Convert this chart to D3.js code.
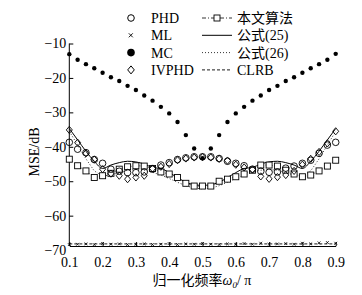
<!DOCTYPE html>
<html>
<head>
<meta charset="utf-8">
<script src="https://cdn.jsdelivr.net/npm/d3@7"></script>
<style>
  body { margin: 0; background: #fff; }
  text { font-family: "Liberation Serif", "Noto Sans CJK SC", serif; fill: #000; }
</style>
</head>
<body>
<div id="chart"></div>
<script>
////////////////////////////////////////////////////////////////////////
// Data (normalised frequency vs MSE in dB)

let freq = d3.range(33).map(i => +(0.1 + i * 0.025).toFixed(3));

let mc = [-13.1, -14.7, -16.0, -17.2, -18.5, -19.8, -20.9, -22.3, -23.5, -25.1, -26.6,
          -28.4, -30.3, -32.8, -36.6, -40.5, -43.3, -40.5, -36.6, -32.8, -30.3, -28.4,
          -26.6, -25.1, -23.5, -22.3, -20.9, -19.8, -18.5, -17.2, -16.0, -14.7, -13.0];

let phd = [-38.7, -40.7, -41.7, -43.7, -44.8, -46.5, -47.1, -47.5, -47.5, -47.3, -46.5,
           -45.3, -44.6, -43.7, -43.2, -42.9, -42.9, -42.9, -43.4, -44.2, -44.8, -45.5,
           -46.5, -47.1, -47.4, -47.3, -46.2, -45.6, -44.8, -43.9, -41.9, -39.5, -38.7];

let ivphd = [-35.1, -38.8, -41.9, -43.7, -46.5, -47.8, -48.4, -49.4, -48.9, -48.4, -46.3,
             -45.8, -45.0, -43.9, -43.4, -43.1, -43.0, -43.1, -43.5, -44.0, -45.2, -46.0,
             -46.6, -48.6, -49.3, -48.8, -48.2, -47.0, -45.2, -43.5, -41.5, -39.0, -35.5];

let ours = [-43.6, -45.5, -47.0, -48.9, -48.4, -47.7, -46.5, -45.8, -45.5, -45.6, -46.3,
            -47.3, -47.9, -48.9, -50.6, -51.4, -51.4, -51.4, -50.0, -49.4, -48.7, -47.9,
            -46.8, -45.3, -45.3, -45.6, -46.8, -47.9, -48.7, -48.2, -47.0, -45.6, -43.9];

let ml = [-68.4, -68.3, -68.2, -68.4, -68.1, -68.3, -68.2, -68.4, -68.3, -68.2, -68.4,
          -68.3, -68.1, -68.4, -68.2, -68.3, -68.1, -68.3, -68.4, -68.2, -68.3, -68.1,
          -68.3, -68.0, -68.3, -68.2, -68.1, -68.3, -68.0, -68.2, -67.9, -67.8, -68.0];

let eq25 = [-34.7, -38.0, -41.3, -44.2, -46.3, -45.3, -44.6, -44.2, -44.4, -45.0, -46.0,
            -46.3, -47.5, -48.9, -50.3, -51.0, -51.2, -51.0, -50.3, -48.9, -47.5, -46.3,
            -46.0, -45.0, -44.4, -44.2, -44.6, -45.3, -46.3, -44.2, -41.3, -38.0, -34.7];

let eq26 = [-35.5, -39.5, -43.5, -47.0, -48.5, -48.2, -47.5, -46.8, -46.6, -46.8, -47.4,
            -48.2, -49.2, -50.3, -51.3, -52.0, -52.2, -52.0, -51.3, -50.3, -49.2, -48.2,
            -47.4, -46.8, -46.6, -46.8, -47.5, -48.2, -48.5, -47.0, -43.5, -39.5, -35.5];

let crlb = freq.map(() => -68.2);

let xTicks = [0.1, 0.2, 0.3, 0.4, 0.5, 0.6, 0.7, 0.8, 0.9];
let yTicks = [-10, -20, -30, -40, -50, -60, -70];

////////////////////////////////////////////////////////////////////////

let width = 362, height = 295;
let svg = d3.select("#chart").append("svg")
  .attr("width", width).attr("height", height);

let xScale = d3.scaleLinear().domain([0.1, 0.9]).range([69.3, 335.7]);
let yScale = d3.scaleLinear().domain([-10, -70]).range([43.5, 250.1]);
let baseY = 246;   // the x axis sits just above -70

// axes
let xAxis = svg.append("g")
  .attr("transform", `translate(0, ${baseY})`)
  .call(d3.axisBottom(xScale).tickValues(xTicks).tickFormat(d3.format(".1f"))
        .tickSizeInner(-4).tickSizeOuter(0).tickPadding(11));
xAxis.selectAll("text").attr("font-size", 14);

let yAxis = svg.append("g")
  .attr("transform", `translate(${xScale(0.1)}, 0)`)
  .call(d3.axisLeft(yScale).tickValues(yTicks).tickFormat(d => "\u2212" + Math.abs(d))
        .tickSizeInner(-4).tickSizeOuter(0).tickPadding(3));
yAxis.selectAll("text").attr("font-size", 14);
yAxis.select(".domain").remove();
yAxis.selectAll(".tick").filter(d => d === -70).select("line").remove();
svg.append("line")
  .attr("x1", xScale(0.1)).attr("x2", xScale(0.1))
  .attr("y1", yScale(-10)).attr("y2", baseY)
  .attr("stroke", "#000");
xAxis.select(".domain").attr("stroke", "#000");

// axis titles
svg.append("text")
  .attr("transform", "translate(39, 152) rotate(-90)")
  .attr("text-anchor", "middle")
  .attr("font-size", 14)
  .text("MSE/dB");

let xt = svg.append("text")
  .attr("x", 202).attr("y", 285)
  .attr("text-anchor", "middle")
  .attr("font-size", 14);
xt.append("tspan").text("归一化频率");
xt.append("tspan").attr("font-style", "italic").text("ω");
xt.append("tspan").attr("font-style", "italic").attr("font-size", 9).attr("dy", 3).text("0");
xt.append("tspan").attr("dy", -3).text("/ π");

// lines
let line = d3.line().x((d, i) => xScale(freq[i])).y(d => yScale(d));

svg.append("path").datum(crlb).attr("d", line)
  .attr("fill", "none").attr("stroke", "#000").attr("stroke-width", 0.9)
  .attr("stroke-dasharray", "3,2");
svg.append("path").datum(eq26).attr("d", line)
  .attr("fill", "none").attr("stroke", "#000").attr("stroke-width", 0.8)
  .attr("stroke-dasharray", "1,2");
svg.append("path").datum(eq25).attr("d", d3.line().curve(d3.curveMonotoneX)
    .x((d, i) => xScale(freq[i])).y(d => yScale(d)))
  .attr("fill", "none").attr("stroke", "#000").attr("stroke-width", 1);
svg.append("path").datum(ours).attr("d", line)
  .attr("fill", "none").attr("stroke", "#000").attr("stroke-width", 0.8)
  .attr("stroke-dasharray", "4,2,1,2");

// markers
let pts = arr => arr.map((v, i) => [freq[i], v]);

svg.append("g").selectAll("rect").data(pts(ours)).enter().append("rect")
  .attr("x", d => xScale(d[0]) - 3).attr("y", d => yScale(d[1]) - 3)
  .attr("width", 6).attr("height", 6)
  .attr("fill", "#fff").attr("stroke", "#000").attr("stroke-width", 0.9);

svg.append("g").selectAll("path").data(pts(ivphd)).enter().append("path")
  .attr("transform", d => `translate(${xScale(d[0])}, ${yScale(d[1])})`)
  .attr("d", "M0,-3.6L3,0L0,3.6L-3,0Z")
  .attr("fill", "none").attr("stroke", "#000").attr("stroke-width", 0.9);

svg.append("g").selectAll("circle").data(pts(phd)).enter().append("circle")
  .attr("cx", d => xScale(d[0])).attr("cy", d => yScale(d[1])).attr("r", 3.3)
  .attr("fill", "none").attr("stroke", "#000").attr("stroke-width", 0.9);

svg.append("g").selectAll("circle").data(pts(mc)).enter().append("circle")
  .attr("cx", d => xScale(d[0])).attr("cy", d => yScale(d[1])).attr("r", 2.2)
  .attr("fill", "#000");

svg.append("g").selectAll("path").data(pts(ml)).enter().append("path")
  .attr("transform", d => `translate(${xScale(d[0])}, ${yScale(d[1])})`)
  .attr("d", "M-1.4,-1.4L1.4,1.4M-1.4,1.4L1.4,-1.4")
  .attr("stroke", "#000").attr("stroke-width", 0.8);

////////////////////////////////////////////////////////////////////////
// legend

let leftRows = ["PHD", "ML", "MC", "IVPHD"];
let rightRows = ["本文算法", "公式(25)", "公式(26)", "CLRB"];
let rowY = i => 18 + i * 17.3;

let lg = svg.append("g");
lg.append("circle").attr("cx", 131).attr("cy", rowY(0)).attr("r", 3.3)
  .attr("fill", "none").attr("stroke", "#000");
lg.append("path").attr("d", `M128.8,${rowY(1) - 2}l4,4m0,-4l-4,4`)
  .attr("stroke", "#000").attr("stroke-width", 0.9);
lg.append("circle").attr("cx", 131).attr("cy", rowY(2)).attr("r", 3.8).attr("fill", "#000");
lg.append("path").attr("transform", `translate(131, ${rowY(3)})`)
  .attr("d", "M0,-4L3.3,0L0,4L-3.3,0Z")
  .attr("fill", "none").attr("stroke", "#000");
leftRows.forEach((t, i) => {
  lg.append("text").attr("x", 151).attr("y", rowY(i) + 5).attr("font-size", 14).text(t);
});

let samples = [
  { dash: "4,2,1,2", w: 0.8 },
  { dash: null, w: 1 },
  { dash: "1,2", w: 0.8 },
  { dash: "3,2", w: 0.9 }
];
samples.forEach((s, i) => {
  let l = lg.append("line").attr("x1", 202).attr("x2", 232)
    .attr("y1", rowY(i)).attr("y2", rowY(i))
    .attr("stroke", "#000").attr("stroke-width", s.w);
  if (s.dash) l.attr("stroke-dasharray", s.dash);
});
lg.append("rect").attr("x", 214).attr("y", rowY(0) - 3).attr("width", 6).attr("height", 6)
  .attr("fill", "#fff").attr("stroke", "#000").attr("stroke-width", 0.9);
rightRows.forEach((t, i) => {
  lg.append("text").attr("x", 237).attr("y", rowY(i) + 5).attr("font-size", 14).text(t);
});
</script>
</body>
</html>
